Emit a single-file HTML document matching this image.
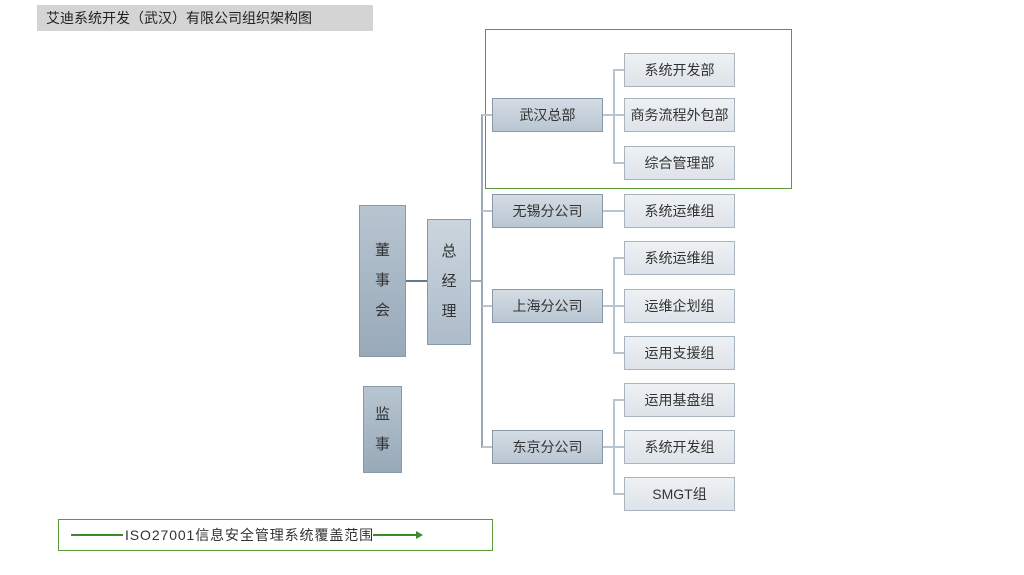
<!DOCTYPE html>
<html><head><meta charset="utf-8"><style>
body{margin:0;width:1024px;height:575px;background:#fff;position:relative;overflow:hidden;font-family:"Liberation Sans","Noto Sans CJK SC",sans-serif;color:#333}
.b{position:absolute;box-sizing:border-box;border:1px solid #8a99a8;display:flex;align-items:center;justify-content:center;font-size:14px}
.l1{background:linear-gradient(#d4dce4,#b9c6d2);width:111px;height:34px;left:492px}
.l2{background:linear-gradient(#eef1f4,#dde3e9);border-color:#a8b4c0;width:111px;height:34px;left:624px}
.v{flex-direction:column;font-size:15px;line-height:30px}
.ln{position:absolute;background:#b8c4ce}
</style></head><body>
<div style="position:absolute;left:37px;top:5px;width:336px;height:26px;background:#d4d4d4;font-size:14px;line-height:26px;padding-left:9px;box-sizing:border-box;color:#222">艾迪系统开发（武汉）有限公司组织架构图</div>
<div style="position:absolute;left:485px;top:29px;width:307px;height:160px;border:1px solid #5a9a3a;box-sizing:border-box"></div>
<div class="ln" style="left:405px;top:280px;width:22px;height:2px;background:#5f7b90"></div>
<div class="ln" style="left:470px;top:280px;width:12px;height:2px;background:#9aaab8"></div>
<div class="ln" style="left:481px;top:114px;width:2px;height:334px;background:#9aaab8"></div>
<div class="ln" style="left:482px;top:114px;width:10px;height:2px"></div>
<div class="ln" style="left:482px;top:210px;width:10px;height:2px"></div>
<div class="ln" style="left:482px;top:305px;width:10px;height:2px"></div>
<div class="ln" style="left:482px;top:446px;width:10px;height:2px"></div>
<div class="ln" style="left:603px;top:114px;width:21px;height:2px"></div>
<div class="ln" style="left:613px;top:69px;width:2px;height:94px"></div>
<div class="ln" style="left:613px;top:69px;width:11px;height:2px"></div>
<div class="ln" style="left:613px;top:162px;width:11px;height:2px"></div>
<div class="ln" style="left:603px;top:210px;width:21px;height:2px"></div>
<div class="ln" style="left:603px;top:305px;width:21px;height:2px"></div>
<div class="ln" style="left:613px;top:257px;width:2px;height:96px"></div>
<div class="ln" style="left:613px;top:257px;width:11px;height:2px"></div>
<div class="ln" style="left:613px;top:352px;width:11px;height:2px"></div>
<div class="ln" style="left:603px;top:446px;width:21px;height:2px"></div>
<div class="ln" style="left:613px;top:399px;width:2px;height:96px"></div>
<div class="ln" style="left:613px;top:399px;width:11px;height:2px"></div>
<div class="ln" style="left:613px;top:493px;width:11px;height:2px"></div>
<div class="b v" style="left:359px;top:205px;width:47px;height:152px;background:linear-gradient(#b8c5d1,#98a9b8)">董<br>事<br>会</div>
<div class="b v" style="left:427px;top:219px;width:44px;height:126px;background:linear-gradient(#ccd5de,#adbccb)">总<br>经<br>理</div>
<div class="b v" style="left:363px;top:386px;width:39px;height:87px;background:linear-gradient(#b8c5d1,#98a9b8)">监<br>事</div>
<div class="b l1" style="top:98px">武汉总部</div>
<div class="b l1" style="top:194px">无锡分公司</div>
<div class="b l1" style="top:289px">上海分公司</div>
<div class="b l1" style="top:430px">东京分公司</div>
<div class="b l2" style="top:53px">系统开发部</div>
<div class="b l2" style="top:98px">商务流程外包部</div>
<div class="b l2" style="top:146px">综合管理部</div>
<div class="b l2" style="top:194px">系统运维组</div>
<div class="b l2" style="top:241px">系统运维组</div>
<div class="b l2" style="top:289px">运维企划组</div>
<div class="b l2" style="top:336px">运用支援组</div>
<div class="b l2" style="top:383px">运用基盘组</div>
<div class="b l2" style="top:430px">系统开发组</div>
<div class="b l2" style="top:477px">SMGT组</div>
<div style="position:absolute;left:58px;top:519px;width:435px;height:32px;border:1px solid #5a9a3a;box-sizing:border-box"></div>
<div style="position:absolute;left:71px;top:534px;width:52px;height:2px;background:#3d8a2a"></div>
<div style="position:absolute;left:125px;top:526px;font-size:14px;line-height:18px;color:#333;letter-spacing:0.9px">ISO27001信息安全管理系统覆盖范围</div>
<div style="position:absolute;left:373px;top:534px;width:44px;height:2px;background:#3d8a2a"></div>
<div style="position:absolute;left:416px;top:531px;width:0;height:0;border-left:7px solid #3d8a2a;border-top:4px solid transparent;border-bottom:4px solid transparent"></div>
</body></html>
